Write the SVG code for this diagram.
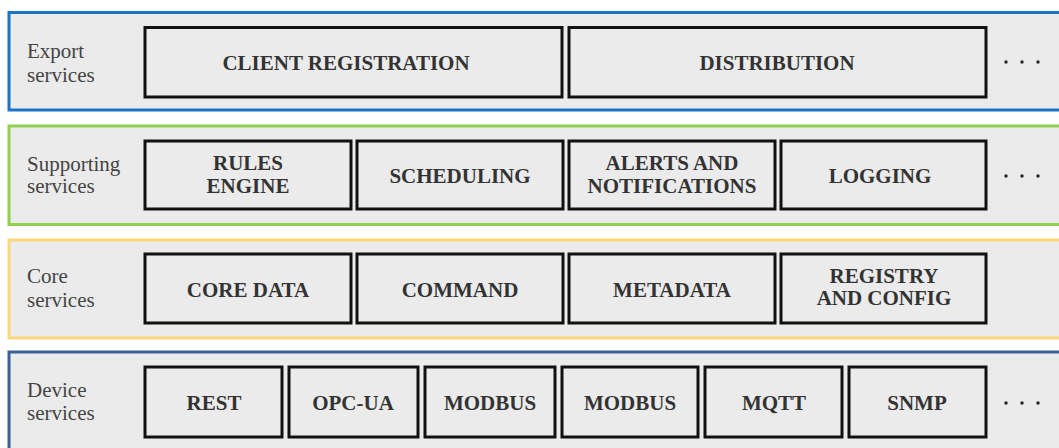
<svg xmlns="http://www.w3.org/2000/svg" width="1059" height="448" viewBox="0 0 1059 448">
<style>
.layer{fill:#ebebeb;stroke-width:3}
.box{fill:#ebebeb;stroke:#111;stroke-width:3}
.lbl{font-family:"Liberation Serif",serif;font-size:21px;fill:#444}
.t{font-family:"Liberation Serif",serif;font-size:21px;font-weight:bold;fill:#333;text-anchor:middle}
.dot{fill:#222}
</style>
<rect width="1059" height="448" fill="#fff"/>
<g id="layer-export">
<rect class="layer" x="9" y="12.5" width="1060" height="97.5" stroke="#1a73c6"/>
<text class="lbl" x="27" y="58">Export</text><text class="lbl" x="27" y="82">services</text>
<g class="dot"><circle cx="1006" cy="62" r="1.7"/><circle cx="1022" cy="62" r="1.7"/><circle cx="1038" cy="62" r="1.7"/></g>
</g>
<g id="layer-supporting">
<rect class="layer" x="9" y="126" width="1060" height="98.5" stroke="#92d050"/>
<text class="lbl" x="27" y="171">Supporting</text><text class="lbl" x="27" y="193">services</text>
<g class="dot"><circle cx="1006" cy="176" r="1.7"/><circle cx="1022" cy="176" r="1.7"/><circle cx="1038" cy="176" r="1.7"/></g>
</g>
<g id="layer-core">
<rect class="layer" x="9" y="240" width="1060" height="98" stroke="#fdd77a"/>
<text class="lbl" x="27" y="283">Core</text><text class="lbl" x="27" y="307">services</text>
</g>
<g id="layer-device">
<rect class="layer" x="9" y="352" width="1060" height="100" stroke="#3b6199"/>
<text class="lbl" x="27" y="397">Device</text><text class="lbl" x="27" y="420">services</text>
<g class="dot"><circle cx="1006" cy="403" r="1.7"/><circle cx="1022" cy="403" r="1.7"/><circle cx="1038" cy="403" r="1.7"/></g>
</g>
<g id="client-registration"><rect class="box" x="145" y="27.5" width="417" height="69.5"/><text class="t" x="346" y="70">CLIENT REGISTRATION</text></g>
<g id="distribution"><rect class="box" x="569" y="27.5" width="417" height="69.5"/><text class="t" x="777" y="70">DISTRIBUTION</text></g>
<g id="rules-engine"><rect class="box" x="145" y="141" width="206" height="68"/><text class="t" x="248" y="170">RULES</text><text class="t" x="248" y="193">ENGINE</text></g>
<g id="scheduling"><rect class="box" x="357" y="141" width="206" height="68"/><text class="t" x="460" y="183">SCHEDULING</text></g>
<g id="alerts"><rect class="box" x="569" y="141" width="206" height="68"/><text class="t" x="672" y="170">ALERTS AND</text><text class="t" x="672" y="193">NOTIFICATIONS</text></g>
<g id="logging"><rect class="box" x="781" y="141" width="205" height="68"/><text class="t" x="880" y="183">LOGGING</text></g>
<g id="core-data"><rect class="box" x="145" y="254" width="206" height="69"/><text class="t" x="248" y="297">CORE DATA</text></g>
<g id="command"><rect class="box" x="357" y="254" width="206" height="69"/><text class="t" x="460" y="297">COMMAND</text></g>
<g id="metadata"><rect class="box" x="569" y="254" width="206" height="69"/><text class="t" x="672" y="297">METADATA</text></g>
<g id="registry"><rect class="box" x="781" y="254" width="205" height="69"/><text class="t" x="884" y="283">REGISTRY</text><text class="t" x="884" y="305">AND CONFIG</text></g>
<g id="rest"><rect class="box" x="145" y="367" width="137" height="70"/><text class="t" x="214" y="410">REST</text></g>
<g id="opc-ua"><rect class="box" x="289" y="367" width="129" height="70"/><text class="t" x="353" y="410">OPC-UA</text></g>
<g id="modbus1"><rect class="box" x="425" y="367" width="130" height="70"/><text class="t" x="490" y="410">MODBUS</text></g>
<g id="modbus2"><rect class="box" x="562" y="367" width="136" height="70"/><text class="t" x="630" y="410">MODBUS</text></g>
<g id="mqtt"><rect class="box" x="705" y="367" width="137" height="70"/><text class="t" x="774" y="410">MQTT</text></g>
<g id="snmp"><rect class="box" x="849" y="367" width="137" height="70"/><text class="t" x="917" y="410">SNMP</text></g>
<g id="connectors"/>
</svg>
